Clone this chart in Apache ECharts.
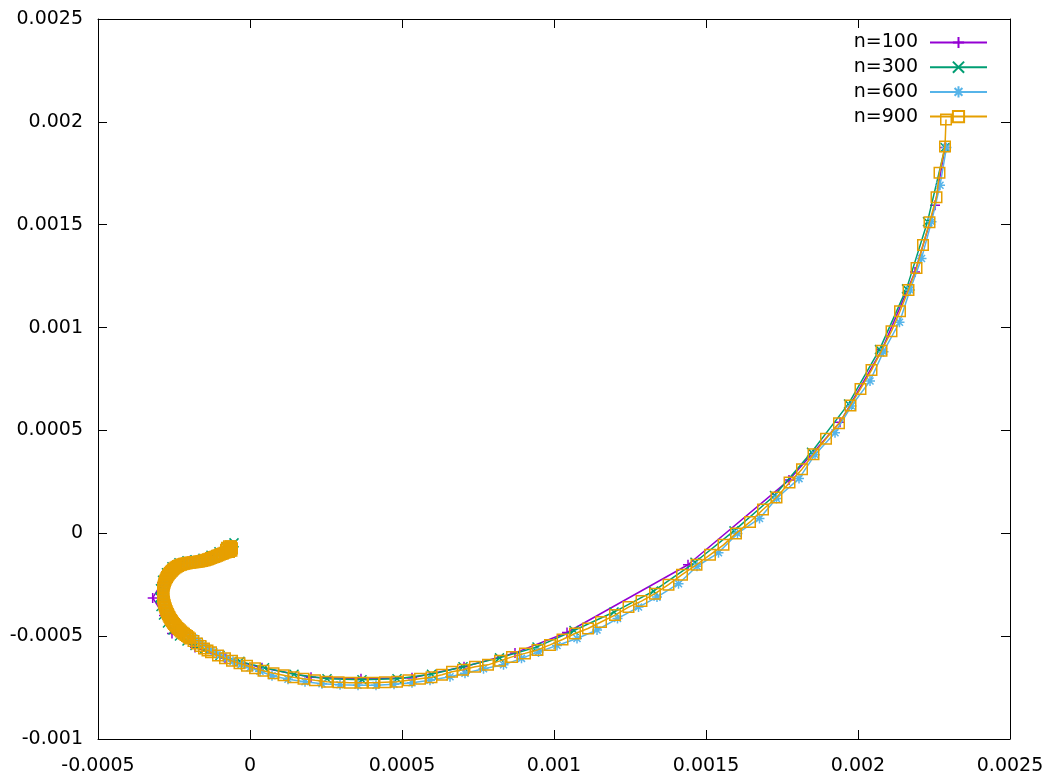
<!DOCTYPE html>
<html>
<head>
<meta charset="utf-8">
<script src="https://cdn.jsdelivr.net/npm/echarts@6/dist/echarts.min.js"></script>
<style>
  html, body { margin: 0; padding: 0; background: #fff; }
  #chart { width: 1056px; height: 779px; }
</style>
</head>
<body>
<div id="chart"></div>
<script>
// spiral trajectories, four step counts (gnuplot look: framed box, mirrored inward ticks)
const NAMES = ['n=100', 'n=300', 'n=600', 'n=900']
const COLORS = ['#9400d3', '#009e73', '#56b4e9', '#e69f00']
const X_TICKS = { min: -0.0005, max: 0.0025, step: 0.0005 }
const Y_TICKS = { min: -0.001, max: 0.0025, step: 0.0005 }

const N100 = [
  [-0.0000592, -0.0000804], [-0.0001250, -0.0001094], [-0.0001974, -0.0001336], [-0.0002599, -0.0001748],
  [-0.0002895, -0.0002401], [-0.0003201, -0.0003142], [-0.0002829, -0.0003999], [-0.0002566, -0.0004870],
  [-0.0001809, -0.0005548], [-0.0000822, -0.0006080], [0.0000395, -0.0006540], [0.0002007, -0.0007000],
  [0.0003651, -0.0007073], [0.0005329, -0.0007024], [0.0007040, -0.0006492], [0.0008717, -0.0005814],
  [0.0010428, -0.0004822], [0.0014408, -0.0001530], [0.0017730, 0.0002585], [0.0019408, 0.0005393],
  [0.0020790, 0.0008927], [0.0021875, 0.0012703], [0.0022533, 0.0015946], [0.0022862, 0.0018754],
]

const N300 = [
  [-0.0000526, -0.0000465], [-0.0000757, -0.0000707], [-0.0001020, -0.0000900], [-0.0001283, -0.0001070],
  [-0.0001546, -0.0001215], [-0.0001809, -0.0001288], [-0.0002072, -0.0001336], [-0.0002336, -0.0001433],
  [-0.0002566, -0.0001627], [-0.0002747, -0.0001917], [-0.0002878, -0.0002280], [-0.0002944, -0.0002692],
  [-0.0002961, -0.0003127], [-0.0002928, -0.0003563], [-0.0002845, -0.0003975], [-0.0002714, -0.0004362],
  [-0.0002533, -0.0004701], [-0.0002319, -0.0004991], [-0.0002072, -0.0005233], [-0.0001809, -0.0005451],
  [-0.0001513, -0.0005645], [-0.0000987, -0.0005935], [-0.0000329, -0.0006226], [0.0000477, -0.0006540],
  [0.0001447, -0.0006855], [0.0002533, -0.0007073], [0.0003684, -0.0007121], [0.0004836, -0.0007073],
  [0.0005970, -0.0006855], [0.0007007, -0.0006492], [0.0008207, -0.0006056], [0.0009441, -0.0005524],
  [0.0010658, -0.0004725], [0.0011974, -0.0003829], [0.0013273, -0.0002813], [0.0014638, -0.0001409],
  [0.0015921, 0.0000116], [0.0017253, 0.0001835], [0.0018471, 0.0003941], [0.0019688, 0.0006289],
  [0.0020707, 0.0008927], [0.0021596, 0.0011880], [0.0022286, 0.0015148], [0.0022862, 0.0018754],
]

const N600 = [
  [-0.0000559, -0.0000658], [-0.0000691, -0.0000828], [-0.0000839, -0.0000949], [-0.0000987, -0.0001046],
  [-0.0001135, -0.0001142], [-0.0001283, -0.0001239], [-0.0001431, -0.0001326], [-0.0001579, -0.0001385],
  [-0.0001727, -0.0001423], [-0.0001875, -0.0001447], [-0.0002023, -0.0001481], [-0.0002171, -0.0001530],
  [-0.0002319, -0.0001602], [-0.0002451, -0.0001714], [-0.0002566, -0.0001869], [-0.0002664, -0.0002053],
  [-0.0002737, -0.0002256], [-0.0002786, -0.0002474], [-0.0002813, -0.0002692], [-0.0002822, -0.0002909],
  [-0.0002813, -0.0003127], [-0.0002790, -0.0003345], [-0.0002753, -0.0003563], [-0.0002704, -0.0003771],
  [-0.0002638, -0.0003975], [-0.0002559, -0.0004168], [-0.0002467, -0.0004352], [-0.0002362, -0.0004521],
  [-0.0002243, -0.0004676], [-0.0002118, -0.0004822], [-0.0001987, -0.0004957], [-0.0001849, -0.0005093],
  [-0.0001704, -0.0005248], [-0.0001546, -0.0005417], [-0.0001382, -0.0005596], [-0.0001184, -0.0005766],
  [-0.0000987, -0.0005925], [-0.0000773, -0.0006080], [-0.0000559, -0.0006226], [-0.0000296, -0.0006385],
  [0.0000000, -0.0006540], [0.0000329, -0.0006710], [0.0000724, -0.0006928], [0.0001250, -0.0007097],
  [0.0001809, -0.0007218], [0.0002368, -0.0007315], [0.0002961, -0.0007363], [0.0003553, -0.0007387],
  [0.0004145, -0.0007387], [0.0004737, -0.0007339], [0.0005329, -0.0007266], [0.0005921, -0.0007145],
  [0.0006579, -0.0006976], [0.0007072, -0.0006806], [0.0007681, -0.0006589], [0.0008339, -0.0006395],
  [0.0008931, -0.0006080], [0.0009490, -0.0005766], [0.0010099, -0.0005451], [0.0010757, -0.0005112],
  [0.0011415, -0.0004701], [0.0012089, -0.0004144], [0.0012780, -0.0003587], [0.0013388, -0.0003103],
  [0.0014096, -0.0002450], [0.0014704, -0.0001602], [0.0015411, -0.0000949], [0.0016036, -0.0000005],
  [0.0016760, 0.0000721], [0.0017319, 0.0001690], [0.0018059, 0.0002658], [0.0018586, 0.0003820],
  [0.0019244, 0.0004885], [0.0019786, 0.0006192], [0.0020395, 0.0007402], [0.0020839, 0.0008830],
  [0.0021365, 0.0010258], [0.0021711, 0.0011831], [0.0022089, 0.0013356], [0.0022418, 0.0015148],
  [0.0022698, 0.0016915], [0.0022911, 0.0018754],
]

// n=900: very dense where the spiral winds up (solid band), sparse along the big arc
const N900 = [
  [-0.6908e-4, -0.7552e-4], [-0.6415e-4, -0.6826e-4], [-0.6086e-4, -0.7552e-4], [-0.6579e-4, -0.8520e-4],
  [-0.7401e-4, -0.8762e-4], [-0.7895e-4, -0.8036e-4], [-0.7566e-4, -0.7068e-4], [-0.6908e-4, -0.6342e-4],
  [-0.6250e-4, -0.6342e-4], [-0.5921e-4, -0.7310e-4], [-0.6086e-4, -0.8520e-4], [-0.6908e-4, -0.9149e-4],
  [-0.7895e-4, -0.9246e-4], [-0.8388e-4, -0.9488e-4], [-0.8882e-4, -0.9779e-4], [-0.9375e-4, -1.0069e-4],
  [-0.9869e-4, -1.0360e-4], [-1.0362e-4, -1.0650e-4], [-1.0855e-4, -1.0941e-4], [-1.1349e-4, -1.1231e-4],
  [-1.1842e-4, -1.1522e-4], [-1.2336e-4, -1.1812e-4], [-1.2829e-4, -1.2054e-4], [-1.3322e-4, -1.2345e-4],
  [-1.3816e-4, -1.2587e-4], [-1.4309e-4, -1.2829e-4], [-1.4803e-4, -1.3071e-4], [-1.5296e-4, -1.3264e-4],
  [-1.5790e-4, -1.3458e-4], [-1.6283e-4, -1.3603e-4], [-1.6776e-4, -1.3748e-4], [-1.7270e-4, -1.3845e-4],
  [-1.7763e-4, -1.3942e-4], [-1.8257e-4, -1.4039e-4], [-1.8750e-4, -1.4087e-4], [-1.9244e-4, -1.4184e-4],
  [-1.9737e-4, -1.4281e-4], [-2.0230e-4, -1.4378e-4], [-2.0724e-4, -1.4523e-4], [-2.1217e-4, -1.4668e-4],
  [-2.1711e-4, -1.4862e-4], [-2.2204e-4, -1.5056e-4], [-2.2698e-4, -1.5298e-4], [-2.3191e-4, -1.5588e-4],
  [-2.3684e-4, -1.5878e-4], [-2.4112e-4, -1.6266e-4], [-2.4507e-4, -1.6653e-4], [-2.4934e-4, -1.7137e-4],
  [-2.5329e-4, -1.7621e-4], [-2.5691e-4, -1.8154e-4], [-2.6053e-4, -1.8686e-4], [-2.6382e-4, -1.9267e-4],
  [-2.6711e-4, -1.9897e-4], [-2.7007e-4, -2.0526e-4], [-2.7303e-4, -2.1204e-4], [-2.7533e-4, -2.1881e-4],
  [-2.7763e-4, -2.2559e-4], [-2.7961e-4, -2.3285e-4], [-2.8125e-4, -2.4011e-4], [-2.8257e-4, -2.4738e-4],
  [-2.8388e-4, -2.5464e-4], [-2.8487e-4, -2.6190e-4], [-2.8553e-4, -2.6916e-4], [-2.8586e-4, -2.7642e-4],
  [-2.8619e-4, -2.8368e-4], [-2.8619e-4, -2.9094e-4], [-2.8619e-4, -2.9821e-4], [-2.8586e-4, -3.0547e-4],
  [-2.8553e-4, -3.1273e-4], [-2.8487e-4, -3.1999e-4], [-2.8421e-4, -3.2725e-4], [-2.8323e-4, -3.3451e-4],
  [-2.8224e-4, -3.4177e-4], [-2.8092e-4, -3.4904e-4], [-2.7961e-4, -3.5630e-4], [-2.7796e-4, -3.6356e-4],
  [-2.7632e-4, -3.7082e-4], [-2.7434e-4, -3.7808e-4], [-2.7237e-4, -3.8534e-4], [-2.7007e-4, -3.9260e-4],
  [-2.6777e-4, -3.9987e-4], [-2.6513e-4, -4.0713e-4], [-2.6250e-4, -4.1439e-4], [-2.5954e-4, -4.2117e-4],
  [-2.5658e-4, -4.2794e-4], [-2.5329e-4, -4.3472e-4], [-2.5000e-4, -4.4102e-4], [-2.4638e-4, -4.4731e-4],
  [-2.4277e-4, -4.5360e-4], [-2.3882e-4, -4.5990e-4], [-2.3487e-4, -4.6570e-4], [-2.3059e-4, -4.7151e-4],
  [-2.2632e-4, -4.7732e-4], [-2.2171e-4, -4.8313e-4], [-2.1711e-4, -4.8846e-4], [-2.1217e-4, -4.9427e-4],
  [-2.0724e-4, -4.9959e-4], [-2.0230e-4, -5.0540e-4], [-1.9737e-4, -5.1121e-4], [-1.8586e-4, -5.2331e-4],
  [-1.7434e-4, -5.3542e-4], [-1.6283e-4, -5.4752e-4], [-1.5132e-4, -5.5962e-4], [-1.3980e-4, -5.6930e-4],
  [-1.2829e-4, -5.7802e-4],
  [-0.0001053, -0.0005935], [-0.0000822, -0.0006080], [-0.0000592, -0.0006201],
  [-0.0000345, -0.0006322], [-0.0000099, -0.0006443], [0.0000164, -0.0006564], [0.0000444, -0.0006685],
  [0.0000773, -0.0006806], [0.0001102, -0.0006903], [0.0001431, -0.0007000], [0.0001760, -0.0007073],
  [0.0002138, -0.0007145], [0.0002533, -0.0007218], [0.0002911, -0.0007242], [0.0003290, -0.0007266],
  [0.0003684, -0.0007266], [0.0004063, -0.0007266], [0.0004441, -0.0007242], [0.0004836, -0.0007218],
  [0.0005214, -0.0007145], [0.0005592, -0.0007073], [0.0005970, -0.0007000], [0.0006316, -0.0006879],
  [0.0006645, -0.0006734], [0.0007007, -0.0006637], [0.0007401, -0.0006492], [0.0007829, -0.0006395],
  [0.0008224, -0.0006201], [0.0008618, -0.0006008], [0.0009046, -0.0005838], [0.0009457, -0.0005669],
  [0.0009868, -0.0005427], [0.0010280, -0.0005161], [0.0010691, -0.0004870], [0.0011119, -0.0004628],
  [0.0011546, -0.0004313], [0.0012007, -0.0003975], [0.0012451, -0.0003587], [0.0012878, -0.0003297],
  [0.0013322, -0.0002934], [0.0013767, -0.0002498], [0.0014211, -0.0002014], [0.0014688, -0.0001530],
  [0.0015132, -0.0001046], [0.0015576, -0.0000562], [0.0015987, -0.0000005], [0.0016448, 0.0000552],
  [0.0016875, 0.0001157], [0.0017319, 0.0001738], [0.0017747, 0.0002464], [0.0018158, 0.0003118],
  [0.0018536, 0.0003844], [0.0018948, 0.0004594], [0.0019375, 0.0005345], [0.0019753, 0.0006216],
  [0.0020082, 0.0007015], [0.0020444, 0.0007934], [0.0020773, 0.0008878], [0.0021102, 0.0009822],
  [0.0021382, 0.0010791], [0.0021661, 0.0011831], [0.0021925, 0.0012896], [0.0022138, 0.0014010],
  [0.0022352, 0.0015123], [0.0022582, 0.0016334], [0.0022681, 0.0017520], [0.0022862, 0.0018802],
  [0.0022895, 0.0020110],
]

const DATA = [N100, N300, N600, N900]

// gnuplot point types: +, x, *, open square
const SYMBOLS = [
  'path://M0,5H10M5,0V10',
  'path://M0,0L10,10M10,0L0,10',
  'path://M0,5H10M5,0V10M1.5,1.5L8.5,8.5M8.5,1.5L1.5,8.5',
  'rect',
]
const SYMBOL_SIZE = [10, 9, 10, 10.5]

const FONT = 'DejaVu Sans'
const fmt = v => String(+v.toFixed(4))

const chart = echarts.init(document.getElementById('chart'), null, { renderer: 'canvas' })

const axisBase = (t, extra) => Object.assign({
  type: 'value', min: t.min, max: t.max, interval: t.step,
  axisLine: { onZero: false, lineStyle: { color: '#000', width: 1 } },
  axisTick: { inside: true, length: 9, lineStyle: { color: '#000', width: 1 } },
  splitLine: { show: false },
}, extra)

chart.setOption({
  animation: false,
  backgroundColor: '#fff',
  grid: { left: 98, right: 46, top: 19, bottom: 40 },
  legend: {
    orient: 'vertical', right: 68, top: 33, align: 'right', padding: 0,
    itemWidth: 57, itemHeight: 14, itemGap: 5.7,
    textStyle: { fontFamily: FONT, fontSize: 19, color: '#000', padding: [0, 7, 0, 0] },
    data: NAMES,
  },
  xAxis: [
    axisBase(X_TICKS, { position: 'bottom',
      axisLabel: { formatter: fmt, color: '#000', fontFamily: FONT, fontSize: 19, margin: 18 } }),
    axisBase(X_TICKS, { position: 'top', axisLabel: { show: false } }),
  ],
  yAxis: [
    axisBase(Y_TICKS, { position: 'left',
      axisLabel: { formatter: fmt, color: '#000', fontFamily: FONT, fontSize: 19, margin: 15 } }),
    axisBase(Y_TICKS, { position: 'right', axisLabel: { show: false } }),
  ],
  series: NAMES.map((name, i) => ({
    name, type: 'line', xAxisIndex: 0, yAxisIndex: 0, z: 2 + i,
    data: DATA[i],
    symbol: SYMBOLS[i], symbolSize: SYMBOL_SIZE[i], showSymbol: true,
    lineStyle: { color: COLORS[i], width: 1.5 },
    itemStyle: { color: 'rgba(0,0,0,0)', borderColor: COLORS[i], borderWidth: 1.5 },
    emphasis: { disabled: true },
  })),
})
</script>
</body>
</html>
